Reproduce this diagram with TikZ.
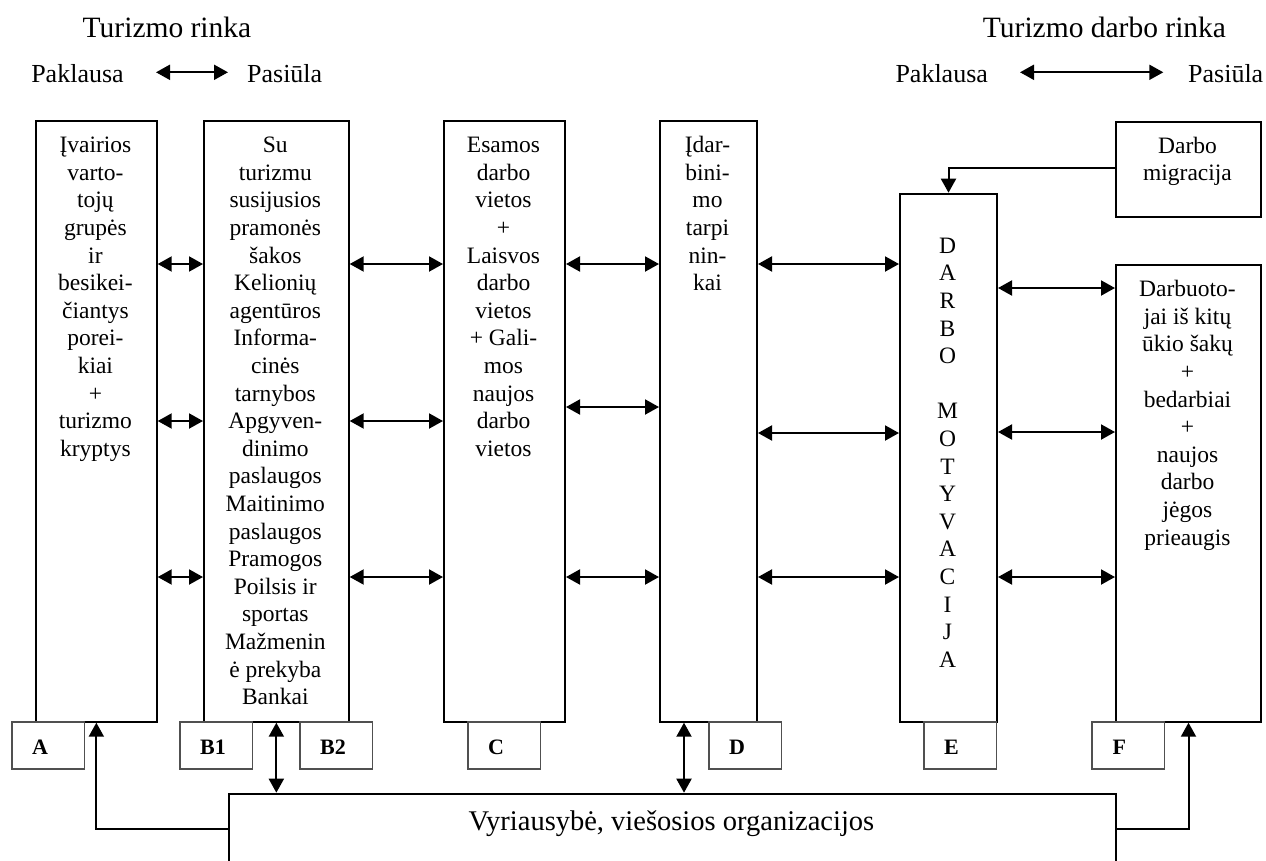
\documentclass[tikz,border=0pt]{standalone}
\usepackage{fontspec}
\setmainfont{Liberation Serif}
\usetikzlibrary{arrows.meta}
\definecolor{lblgray}{HTML}{505050}
\begin{document}
\begin{tikzpicture}[x=1pt,y=-1pt,
  mainbox/.style={draw=black, line width=2pt, inner sep=0pt, anchor=north west},
  lblbox/.style={draw=lblgray, line width=1.8pt, inner sep=0pt, anchor=north west,
    minimum width=72.5pt, minimum height=47.3pt},
  lbltext/.style={inner sep=0pt, anchor=base west, font=\fontsize{22}{26}\selectfont\bfseries},
  % multi-line texts are placed by the baseline of their last line
  boxtext/.style={align=center, inner sep=0pt, anchor=base,
    font=\fontsize{23.5}{27.6}\selectfont},
  headtext/.style={inner sep=0pt, anchor=base, font=\fontsize{29.5}{34}\selectfont},
  sidetext/.style={inner sep=0pt, anchor=base, font=\fontsize{26}{30}\selectfont},
  tip/.tip={Triangle[length=14pt,width=15pt]},
  both/.style={tip-tip, line width=2pt},
  onearrow/.style={-tip, line width=2pt}]
\useasboundingbox (0,0) rectangle (1266,860);

% ---- headings ----
\node[headtext] (h1) at (167,37.7) {Turizmo rinka};
\node[sidetext] (dem1) at (77.5,82.3) {Paklausa};
\node[sidetext] (sup1) at (284.7,82.3) {Pasiūla};
\coordinate (ha1) at (156,72.3);
\coordinate (hb1) at (228,72.3);
\draw[both] (ha1) -- (hb1);

\node[headtext] (h2) at (1104.5,37.7) {Turizmo darbo rinka};
\node[sidetext] (dem2) at (941.7,82.3) {Paklausa};
\node[sidetext] (sup2) at (1225.7,82.3) {Pasiūla};
\coordinate (ha2) at (1020,72.3);
\coordinate (hb2) at (1163.3,72.3);
\draw[both] (ha2) -- (hb2);

% ---- main columns ----
\node[mainbox, minimum width=120.7pt, minimum height=600.7pt] (A) at (35,120) {};
\node[mainbox, minimum width=144.7pt, minimum height=600.7pt] (B) at (203,120) {};
\node[mainbox, minimum width=121pt, minimum height=600.7pt] (C) at (443,120) {};
\node[mainbox, minimum width=97pt, minimum height=600.7pt] (D) at (659,120) {};
\node[mainbox, minimum width=97pt, minimum height=528pt] (E) at (899,192.7) {};
\node[mainbox, minimum width=145pt, minimum height=95.3pt] (M) at (1115,120.7) {};
\node[mainbox, minimum width=145pt, minimum height=456.7pt] (F) at (1115,264) {};
\node[mainbox, minimum width=887pt, minimum height=120pt] (G) at (228,792.7) {};

% ---- column texts ----
\node[boxtext] (tA) at (95.4,456.3) {Įvairios\\varto-\\tojų\\grupės\\ir\\besikei-\\čiantys\\porei-\\kiai\\+\\turizmo\\kryptys};
\node[boxtext] (tB) at (275.3,704.7) {Su\\turizmu\\susijusios\\pramonės\\šakos\\Kelionių\\agentūros\\Informa-\\cinės\\tarnybos\\Apgyven-\\dinimo\\paslaugos\\Maitinimo\\paslaugos\\Pramogos\\Poilsis ir\\sportas\\Mažmenin\\ė prekyba\\Bankai};
\node[boxtext] (tC) at (503.5,456.3) {Esamos\\darbo\\vietos\\+\\Laisvos\\darbo\\vietos\\+ Gali-\\mos\\naujos\\darbo\\vietos};
\node[boxtext] (tD) at (707.5,290.7) {Įdar-\\bini-\\mo\\tarpi\\nin-\\kai};
\node[boxtext] (tE) at (947.5,667.3) {D\\A\\R\\B\\O\\{}\\M\\O\\T\\Y\\V\\A\\C\\I\\J\\A};
\node[boxtext] (tM) at (1187.5,180.9) {Darbo\\migracija};
\node[boxtext] (tF) at (1187.5,545.1) {Darbuoto-\\jai iš kitų\\ūkio šakų\\+\\bedarbiai\\+\\naujos\\darbo\\jėgos\\prieaugis};
\node[inner sep=0pt, anchor=base, font=\fontsize{28.5}{33}\selectfont] (tG) at (671.5,830.7) {Vyriausybė, viešosios organizacijos};

% ---- letter tags ----
\node[lblbox] (lA) at (11,720.7) {};
\node[lblbox] (lB1) at (179,720.7) {};
\node[lblbox] (lB2) at (299,720.7) {};
\node[lblbox] (lC) at (467,720.7) {};
\node[lblbox] (lD) at (708,720.7) {};
\node[lblbox] (lE) at (923,720.7) {};
\node[lblbox] (lF) at (1091,720.7) {};
\node[lbltext] (kA) at (32,754.3) {A};
\node[lbltext] (kB1) at (200,754.3) {B1};
\node[lbltext] (kB2) at (320,754.3) {B2};
\node[lbltext] (kC) at (488,754.3) {C};
\node[lbltext] (kD) at (729,754.3) {D};
\node[lbltext] (kE) at (944,754.3) {E};
\node[lbltext] (kF) at (1112.5,754.3) {F};

% ---- arrow levels ----
\coordinate (r1) at (0,264);
\coordinate (r2) at (0,421);
\coordinate (r3) at (0,577);
\coordinate (rc) at (0,407);
\coordinate (rd) at (0,433);
\coordinate (re1) at (0,288);
\coordinate (re2) at (0,432);
\coordinate (rm) at (0,168);
\coordinate (rg) at (0,829);
\coordinate (xd) at (684,0);

% ---- horizontal links ----
\foreach \r in {r1,r2,r3} {
  \draw[both] (A.east |- \r) -- (B.west |- \r);
  \draw[both] (B.east |- \r) -- (C.west |- \r);
}
\foreach \r in {r1,rc,r3} \draw[both] (C.east |- \r) -- (D.west |- \r);
\foreach \r in {r1,rd,r3} \draw[both] (D.east |- \r) -- (E.west |- \r);
\foreach \r in {re1,re2,r3} \draw[both] (E.east |- \r) -- (F.west |- \r);

% ---- migration and government links ----
\draw[onearrow] (M.west |- rm) -| (E.north);
\draw[onearrow] (G.west |- rg) -| (A.south);
\draw[onearrow] (G.east |- rg) -| (F.south);
\draw[both] (B.south) -- (G.north -| B.south);
\draw[both] (D.south -| xd) -- (G.north -| xd);
\end{tikzpicture}
\end{document}
